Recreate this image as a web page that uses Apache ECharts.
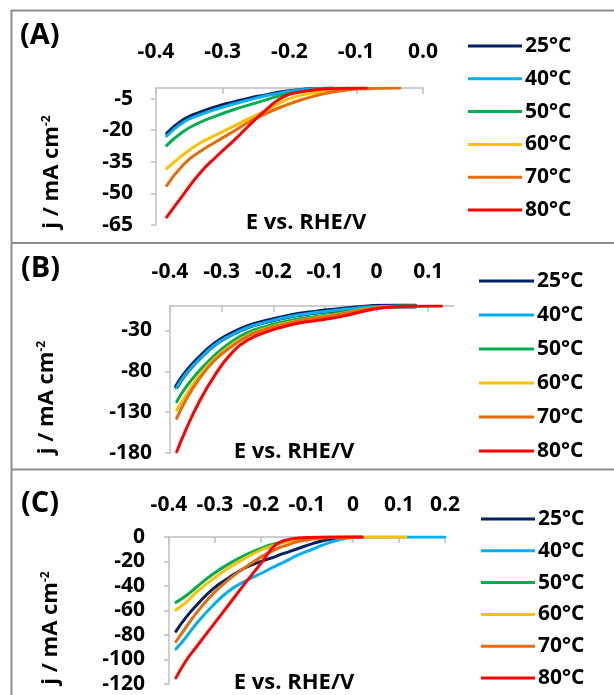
<!DOCTYPE html>
<html>
<head>
<meta charset="utf-8">
<script src="https://cdn.jsdelivr.net/npm/echarts@6/dist/echarts.min.js"></script>
<style>
html,body{margin:0;padding:0;background:#fff;}
#chart{width:614px;height:695px;}
</style>
</head>
<body>
<div id="chart"></div>
<script>
// ---------- data ----------
const tempNames = ['25°C', '40°C', '50°C', '60°C', '70°C', '80°C'];
const panelLabels = ['(A)', '(B)', '(C)'];
const xAxisName = 'E vs. RHE/V';
const yAxisName = 'j / mA cm{sup|-2}';

// Panel A
const A_E = [-0.384, -0.359, -0.334, -0.309, -0.284, -0.259, -0.234, -0.21, -0.185, -0.16, -0.135, -0.11, -0.085, -0.06, -0.035];
const A_j25 = [-21.5, -15.0, -11.4, -8.7, -6.6, -4.7, -3.2, -1.7, -0.8, -0.3, 0];
const A_j40 = [-22.8, -16.3, -12.7, -10.0, -7.6, -5.5, -3.6, -2.1, -0.9, -0.3, 0];
const A_j50 = [-27.2, -20.6, -16.3, -13.1, -10.3, -7.9, -5.5, -3.3, -1.9, -0.8, -0.3, 0];
const A_j60 = [-38.3, -31.6, -26.1, -22.1, -18.2, -14.2, -10.6, -6.3, -3.6, -2.1, -1.0, -0.3, 0];
const A_j70 = [-46.3, -36.4, -30.1, -25.3, -20.6, -15.8, -11.9, -8.7, -5.9, -3.6, -1.9, -0.8, -0.3, -0.1, 0];
const A_j80 = [-61.3, -50.6, -40.3, -32.4, -25.1, -17.3, -10.0, -4.3, -1.9, -0.8, -0.3, -0.1, 0];
const A_xTicks = [-0.4, -0.3, -0.2, -0.1, 0];
const A_yTicks = [-65, -50, -35, -20, -5];

// Panel B
const B_E = [-0.387, -0.371, -0.345, -0.313, -0.281, -0.249, -0.216, -0.184, -0.152, -0.12, -0.087, -0.055, -0.023, 0.01, 0.042, 0.074, 0.106, 0.126];
const B_j25 = [-98.5, -83.2, -64.8, -46.5, -34.3, -25.2, -19.2, -14.5, -10.5, -7.8, -5.4, -3.4, -1.4, -0.3, 0, 0];
const B_j40 = [-99.7, -84.6, -66.2, -47.8, -35.5, -26.1, -20.0, -15.1, -11.0, -8.2, -5.7, -3.7, -1.6, -0.4, 0, 0];
const B_j50 = [-117.2, -100.9, -80.5, -60.0, -43.7, -32.3, -25.3, -20.0, -15.9, -13.1, -10.2, -6.9, -3.7, -1.2, -0.2, 0];
const B_j60 = [-127.5, -111.1, -86.6, -64.1, -47.8, -35.5, -27.8, -22.1, -18.0, -14.7, -11.4, -7.8, -4.1, -1.2, -0.3, 0];
const B_j70 = [-137.7, -117.2, -90.7, -66.2, -49.8, -36.8, -28.6, -22.9, -18.4, -15.1, -11.8, -8.2, -4.5, -1.6, -0.4, 0];
const B_j80 = [-178.5, -154.0, -119.3, -84.6, -58.0, -41.7, -32.3, -26.1, -21.2, -18.0, -15.1, -11.0, -6.1, -2.5, -0.8, -0.2, 0, 0];
const B_xTicks = [-0.4, -0.3, -0.2, -0.1, 0, 0.1];
const B_yTicks = [-180, -130, -80, -30];

// Panel C
const C_E = [-0.385, -0.363, -0.341, -0.305, -0.269, -0.233, -0.196, -0.175, -0.16, -0.138, -0.124, -0.088, -0.051, -0.015, 0.02, 0.115, 0.2];
const C_j25 = [-77.0, -65.6, -56.1, -42.5, -33.1, -24.9, -19.5, -16.8, -14.6, -11.9, -10.0, -5.4, -1.9, -0.3, 0];
const C_j40 = [-91.5, -81.8, -71.0, -56.1, -43.9, -35.8, -29.0, -24.9, -22.2, -18.2, -15.4, -10.0, -4.6, -1.1, 0, 0, 0];
const C_j50 = [-53.4, -48.0, -41.2, -30.4, -21.7, -14.6, -8.7, -6.0, -4.6, -2.7, -1.9, -0.5, 0, 0, 0];
const C_j60 = [-59.5, -53.4, -45.3, -34.4, -24.9, -16.8, -10.0, -7.3, -5.4, -3.5, -2.7, -1.1, -0.3, 0, 0, 0];
const C_j70 = [-85.5, -73.7, -62.3, -46.6, -34.4, -24.4, -15.4, -11.4, -8.7, -6.0, -4.1, -1.6, -0.5, 0, 0];
const C_j80 = [-115.0, -101.0, -90.0, -72.4, -54.7, -37.1, -19.5, -8.7, -4.6, -1.9, -1.1, -0.3, 0, 0, 0];
const C_xTicks = [-0.4, -0.3, -0.2, -0.1, 0, 0.1, 0.2];
const C_yTicks = [-120, -100, -80, -60, -40, -20, 0];

// ---------- styling / layout ----------
const colors = ['#002060', '#00B0F0', '#00B050', '#FFC000', '#E46C0A', '#FF0000'];
const FONT = 'Open Sans';
const axisGray = '#BFBFBF';

const panels = [
  { E: A_E, js: [A_j25, A_j40, A_j50, A_j60, A_j70, A_j80], xTicks: A_xTicks, yTicks: A_yTicks,
    xMin: -0.4, xMax: 0, yMin: -65, yMax: 0,
    grid: { left: 156, top: 88, width: 267, height: 137 },
    xFmt: v => v.toFixed(1), xMargin: 25, yMargin: 23,
    yNameGap: 93, yNamePad: [0, 31, 0, 0], xNameGap: -146, xNamePad: [0, 0, 0, 33],
    legend: { left: 468, top: 34, itemWidth: 54, itemGap: 8.8 },
    label: { left: 20, top: 21 }, wide25: false },
  { E: B_E, js: [B_j25, B_j40, B_j50, B_j60, B_j70, B_j80], xTicks: B_xTicks, yTicks: B_yTicks,
    xMin: -0.4, xMax: 0.15, yMin: -180, yMax: 0,
    grid: { left: 170, top: 306, width: 284, height: 147 },
    xFmt: v => (v === 0 ? '0' : v.toFixed(1)), xMargin: 23, yMargin: 18,
    yNameGap: 112, yNamePad: [0, 36, 0, 0], xNameGap: -157, xNamePad: [0, 36, 0, 0],
    legend: { left: 479, top: 269, itemWidth: 55, itemGap: 10 },
    label: { left: 21, top: 254 }, wide25: true },
  { E: C_E, js: [C_j25, C_j40, C_j50, C_j60, C_j70, C_j80], xTicks: C_xTicks, yTicks: C_yTicks,
    xMin: -0.4, xMax: 0.2, yMin: -120, yMax: 0,
    grid: { left: 169, top: 537, width: 276, height: 147 },
    xFmt: v => (v === 0 ? '0' : v.toFixed(1)), xMargin: 21, yMargin: 24,
    yNameGap: 107, yNamePad: [0, 35, 0, 0], xNameGap: -157, xNamePad: [0, 26, 0, 0],
    legend: { left: 481, top: 507, itemWidth: 54, itemGap: 7.8 },
    label: { left: 21, top: 489 }, wide25: false }
];

const grids = [], xAxes = [], yAxes = [], series = [], legends = [], titles = [];

panels.forEach((p, pi) => {
  grids.push(Object.assign({ containLabel: false }, p.grid));
  xAxes.push({
    type: 'value', gridIndex: pi, position: 'top', min: p.xMin, max: p.xMax,
    axisLine: { show: true, onZero: false, lineStyle: { color: axisGray, width: 1.5 } },
    axisTick: { show: true, inside: true, length: 6, customValues: p.xTicks, lineStyle: { color: axisGray, width: 1.5 } },
    axisLabel: { customValues: p.xTicks, formatter: p.xFmt, margin: p.xMargin, color: '#000',
      fontFamily: FONT, fontWeight: 'bold', fontSize: 21 },
    splitLine: { show: false },
    name: xAxisName, nameLocation: 'middle', nameGap: p.xNameGap,
    nameTextStyle: { fontFamily: FONT, fontWeight: 'bold', fontSize: 22, color: '#000', padding: p.xNamePad }
  });
  yAxes.push({
    type: 'value', gridIndex: pi, min: p.yMin, max: p.yMax,
    axisLine: { show: true, onZero: false, lineStyle: { color: axisGray, width: 1.5 } },
    axisTick: { show: true, inside: false, length: 5, customValues: p.yTicks, lineStyle: { color: axisGray, width: 1.5 } },
    axisLabel: { customValues: p.yTicks, margin: p.yMargin, color: '#000',
      fontFamily: FONT, fontWeight: 'bold', fontSize: 21 },
    splitLine: { show: false },
    name: yAxisName, nameLocation: 'middle', nameRotate: 90, nameGap: p.yNameGap,
    nameTextStyle: { fontFamily: FONT, fontWeight: 'bold', fontSize: 22, color: '#000', padding: p.yNamePad,
      rich: { sup: { fontFamily: FONT, fontWeight: 'bold', fontSize: 12, color: '#000', verticalAlign: 'top', padding: [0, 0, 10, 0] } } }
  });
  p.js.forEach((vals, si) => {
    series.push({
      name: tempNames[si], type: 'line', xAxisIndex: pi, yAxisIndex: pi,
      data: vals.map((v, k) => [p.E[k], v]),
      smooth: 0.5, symbol: 'none', showSymbol: false,
      lineStyle: { color: colors[si], width: (p.wide25 && si === 0) ? 5 : 3, cap: 'round', join: 'round' },
      itemStyle: { color: colors[si] }, z: 2 + si
    });
  });
  legends.push({
    orient: 'vertical', left: p.legend.left, top: p.legend.top,
    itemWidth: p.legend.itemWidth, itemHeight: 3, itemGap: p.legend.itemGap, icon: 'rect',
    padding: 0, selectedMode: false,
    textStyle: { fontFamily: FONT, fontWeight: 'bold', fontSize: 21, color: '#000', lineHeight: 24, padding: [0, 0, 0, -2] },
    data: tempNames.map((n, si) => ({ name: n,
      itemStyle: { color: colors[si] } }))
  });
  titles.push({ text: panelLabels[pi], left: p.label.left, top: p.label.top, padding: 0,
    textStyle: { fontFamily: FONT, fontWeight: 'bold', fontSize: 29, color: '#000' } });
});

const chart = echarts.init(document.getElementById('chart'), null, { renderer: 'canvas' });
chart.setOption({
  animation: false,
  backgroundColor: '#ffffff',
  title: titles,
  grid: grids,
  xAxis: xAxes,
  yAxis: yAxes,
  legend: legends,
  series: series,
  graphic: [
    { type: 'line', shape: { x1: 11, y1: 10.5, x2: 614, y2: 10.5 }, style: { stroke: '#8C8C8C', lineWidth: 2 }, silent: true },
    { type: 'line', shape: { x1: 11.5, y1: 10, x2: 11.5, y2: 695 }, style: { stroke: '#8C8C8C', lineWidth: 2 }, silent: true },
    { type: 'line', shape: { x1: 11, y1: 243, x2: 614, y2: 243 }, style: { stroke: '#8C8C8C', lineWidth: 2 }, silent: true },
    { type: 'line', shape: { x1: 11, y1: 469.5, x2: 614, y2: 469.5 }, style: { stroke: '#8C8C8C', lineWidth: 2 }, silent: true }
  ]
});
</script>
</body>
</html>
